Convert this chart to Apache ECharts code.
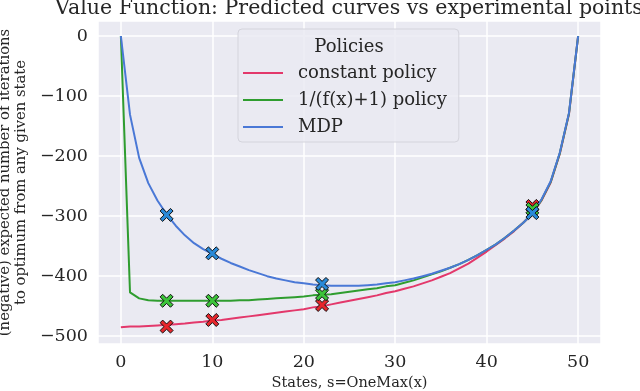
<!DOCTYPE html>
<html>
<head>
<meta charset="utf-8">
<script src="https://cdn.jsdelivr.net/npm/echarts@6/dist/echarts.min.js"></script>
<style>
  html, body { margin: 0; padding: 0; background: #fff; }
  #chart { width: 640px; height: 391px; }
</style>
</head>
<body>
<div id="chart"></div>
<script>
// states 0..50
const states = []
for (let i = 0; i <= 50; i++) states.push(i)

// predicted curves
const constPolicy = [-485, -484, -484, -483, -482, -481, -480, -479, -477, -476,
  -474, -473, -471, -469, -467, -465, -463, -461, -459, -457,
  -455, -452, -450, -447, -444, -441, -438, -435, -432, -428,
  -425, -421, -417, -412, -407, -401, -395, -387, -379, -369,
  -359, -348, -337, -325, -311, -296, -274, -244, -196, -130, 0]
const invPolicy = [0, -427, -437, -440, -441, -441, -441, -441, -441, -441,
  -441, -441, -441, -440, -440, -439, -438, -437, -436, -435,
  -434, -432, -431, -430, -428, -426, -424, -422, -420, -417,
  -415, -411, -407, -402, -397, -392, -386, -380, -373, -365,
  -356, -347, -336, -324, -311, -296, -273, -243, -195, -129, 0]
const mdpPolicy = [0, -131, -203, -245, -274, -297, -316, -332, -345, -355,
  -363, -371, -378, -384, -390, -395, -400, -404, -407, -410,
  -412, -414, -415, -416, -416, -416, -416, -415, -414, -412,
  -410, -407, -404, -400, -396, -391, -386, -380, -373, -365,
  -356, -347, -336, -324, -311, -296, -272, -242, -194, -128, 0]

// experimental points
const expStates = [5, 10, 22, 45]
const expConst = [-484, -473, -448, -283]
const expInv = [-441, -441, -430, -288]
const expMdp = [-298, -362, -413, -295]

const seriesNames = ['constant policy', '1/(f(x)+1) policy', 'MDP']
const lineColors = ['#e3386b', '#2f9d2f', '#4a78d6']
const markColors = ['#e6262c', '#3cc43a', '#2a8ad8']

const font = 'DejaVu Serif'
const xMark = 'path://M2,0 L5,3 L8,0 L10,2 L7,5 L10,8 L8,10 L5,7 L2,10 L0,8 L3,5 L0,2 Z'

function pairs(xs, ys) {
  return xs.map((x, i) => [x, ys[i]])
}

let lines = [constPolicy, invPolicy, mdpPolicy].map((ys, i) => ({
  name: seriesNames[i],
  type: 'line',
  data: pairs(states, ys),
  showSymbol: false,
  symbol: 'none',
  lineStyle: { color: lineColors[i], width: 2 },
  itemStyle: { color: lineColors[i] },
  z: 2 + i
}))
let marks = [expConst, expInv, expMdp].map((ys, i) => ({
  name: 'exp' + i,
  type: 'scatter',
  data: pairs(expStates, ys),
  symbol: xMark,
  symbolSize: 13,
  itemStyle: { color: markColors[i], borderColor: '#111', borderWidth: 1, opacity: 1 },
  z: 10 + i
}))

let myChart = echarts.init(document.getElementById('chart'))
myChart.setOption({
  animation: false,
  textStyle: { fontFamily: font },
  grid: {
    left: 98, right: 39, top: 21, bottom: 47,
    outerBoundsMode: 'none',
    containLabel: false,
    show: true, backgroundColor: '#eaeaf2', borderWidth: 0
  },
  graphic: [
    {
      type: 'text', x: 349, y: 9, z: 100,
      style: { text: 'Value Function: Predicted curves vs experimental points',
        font: '20.5px "DejaVu Serif"', fill: '#262626', textAlign: 'center', textVerticalAlign: 'middle' }
    },
    {
      type: 'text', x: 349, y: 47, z: 100,
      style: { text: 'Policies', font: '18px "DejaVu Serif"', fill: '#262626',
        textAlign: 'center', textVerticalAlign: 'middle' }
    }
  ],
  legend: {
    data: seriesNames,
    orient: 'vertical',
    left: 238,
    top: 29,
    padding: [35, 12, 6, 5],
    itemGap: 9,
    itemWidth: 40,
    itemHeight: 2,
    icon: 'rect',
    backgroundColor: 'rgba(234,234,242,0.85)',
    borderColor: '#d4d4dc',
    borderWidth: 1,
    borderRadius: 4,
    textStyle: { fontFamily: font, fontSize: 18, color: '#262626', padding: [0, 0, 0, 10] }
  },
  xAxis: {
    type: 'value',
    min: -2.5,
    max: 52.5,
    splitNumber: 5,
    name: 'States, s=OneMax(x)',
    nameLocation: 'middle',
    nameGap: 30,
    nameTextStyle: { fontFamily: font, fontSize: 14.5, color: '#262626' },
    axisLine: { show: false },
    axisTick: { show: false },
    axisLabel: { fontFamily: font, fontSize: 17.5, color: '#262626', margin: 9,
      showMinLabel: false, showMaxLabel: false },
    splitLine: { lineStyle: { color: '#ffffff', width: 1.5 } }
  },
  yAxis: {
    type: 'value',
    min: -513,
    max: 25,
    splitNumber: 5,
    name: '(negative) expected number of iterations\nto optimum from any given state',
    nameLocation: 'middle',
    nameRotate: 90,
    nameGap: 65,
    nameTextStyle: { fontFamily: font, fontSize: 14.8, color: '#262626', lineHeight: 16 },
    axisLine: { show: false },
    axisTick: { show: false },
    axisLabel: { fontFamily: font, fontSize: 17.5, color: '#262626', margin: 10,
      showMinLabel: false, showMaxLabel: false,
      formatter: v => String(v).replace('-', '\u2212') },
    splitLine: { lineStyle: { color: '#ffffff', width: 1.5 } }
  },
  series: lines.concat(marks)
})
</script>
</body>
</html>
